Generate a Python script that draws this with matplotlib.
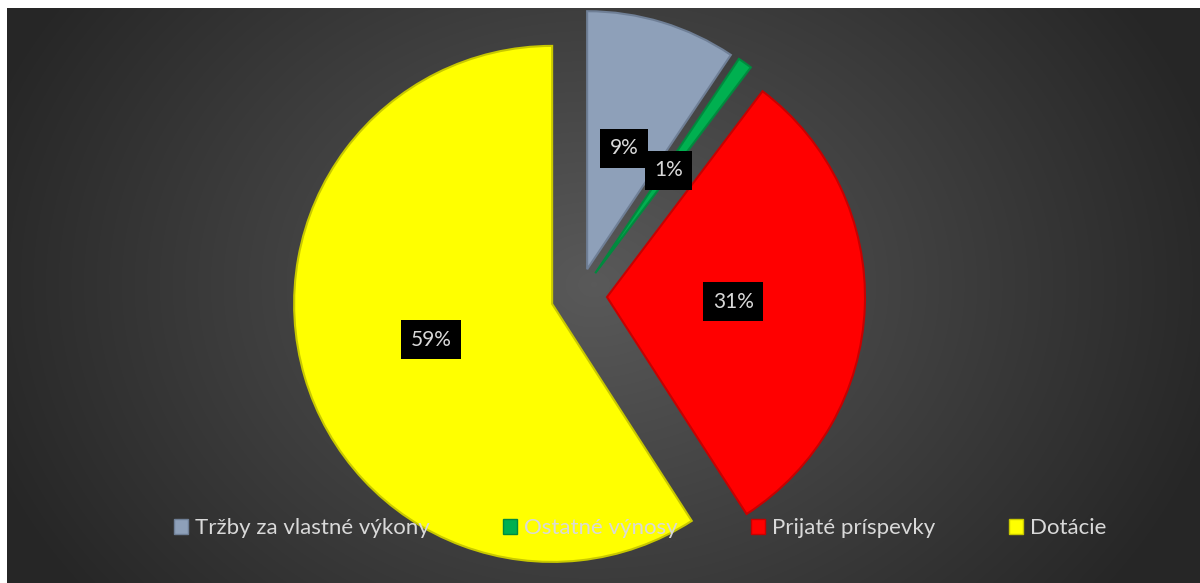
import matplotlib.pyplot as plt
import numpy as np
from matplotlib.patches import Patch

plt.rcParams['font.family'] = ['Lato', 'DejaVu Sans']

# data
categories = ['Tržby za vlastné výkony', 'Ostatné výnosy', 'Prijaté príspevky', 'Dotácie']
values = [9.4, 0.9, 30.6, 59.1]
colors = ['#8ea0b9', '#00b050', '#ff0000', '#ffff00']
edge_colors = ['#6f7f96', '#008a3e', '#c80000', '#c8c800']

W, H = 1200, 583
fig = plt.figure(figsize=(W / 100, H / 100), dpi=100)
fig.patch.set_facecolor('white')

ax = fig.add_axes([0, 0, 1, 1])

# radial gradient background (dark grey)
yy, xx = np.mgrid[0:H, 0:W]
r = np.sqrt(((xx - 590) / 650.0) ** 2 + ((yy - 280) / 520.0) ** 2)
shade = 0.35 - 0.20 * np.clip(r, 0, 1)
img = np.dstack([shade, shade, shade])
ax.imshow(img, extent=(7, W, 0, H - 8), origin='upper', zorder=0, aspect='auto')

# pie in pixel coordinates (explode is in data units here)
wedges, texts, autotexts = ax.pie(
    values, colors=colors, startangle=90, counterclock=False,
    center=(579, H - 296), radius=258, explode=[28] * 4,
    autopct=lambda p: '%d%%' % round(p), pctdistance=0.49,
    wedgeprops=dict(linewidth=1.5), frame=True,
    textprops=dict(color='#d9d9d9', fontsize=15))
for w, ec in zip(wedges, edge_colors):
    w.set_edgecolor(ec)
    w.set_zorder(2)
for t in autotexts:
    t.set_bbox(dict(boxstyle='square,pad=0.45', facecolor='black', edgecolor='none'))
    t.set_zorder(5)

ax.set_xlim(0, W)
ax.set_ylim(0, H)
ax.set_aspect('auto')
ax.axis('off')

handles = [Patch(facecolor=c, edgecolor=ec, linewidth=1) for c, ec in zip(colors, edge_colors)]
leg = ax.legend(handles, categories, loc='center', bbox_to_anchor=(640 / W, 1 - 528 / H),
                ncol=4, frameon=False, fontsize=16, labelcolor='#d9d9d9',
                handlelength=0.65, handleheight=0.65, handletextpad=0.3,
                columnspacing=3.3)
leg.set_zorder(6)

fig.savefig('out.png', dpi=100, facecolor='white')
